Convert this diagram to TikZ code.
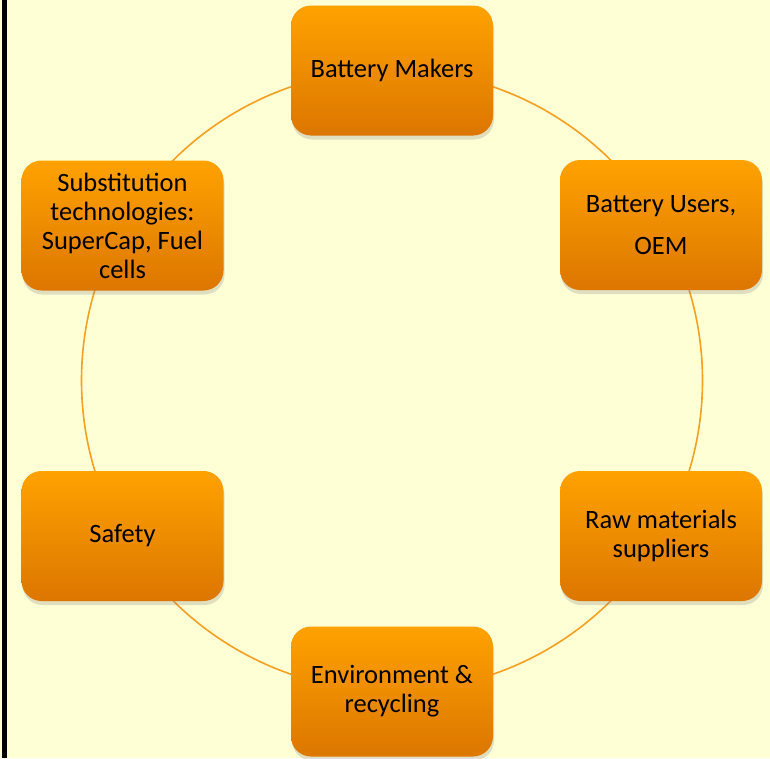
\documentclass[tikz,border=0pt]{standalone}
\usepackage{fontspec}
\setmainfont{Carlito}
\usetikzlibrary{shadows}
\definecolor{paper}{HTML}{FFFFD6}
\definecolor{ring}{HTML}{F5A01E}
\definecolor{boxtop}{HTML}{FFA200}
\definecolor{boxbot}{HTML}{DC7600}
\tikzset{
  player/.style={rounded corners=20pt, minimum width=202pt, minimum height=130pt,
    top color=boxtop, bottom color=boxbot, draw=none, align=center,
    font=\fontsize{26.5}{29}\selectfont,
    drop shadow={shadow xshift=1pt, shadow yshift=-4pt, opacity=0.25}},
}
\begin{document}
\begin{tikzpicture}[x=1pt,y=-1pt]
        \useasboundingbox (0,0) rectangle (770,758);
        \fill[paper] (0,0) rectangle (770,758);
        \fill[black] (2,0) rectangle (7,758);
        \coordinate (hub) at (392,380.5);
        \draw[ring, line width=1.6pt] (hub) circle[radius=310.5];
        \node[player] at (392,70.5) (makers) {Battery Makers};
        \node[player] at (661,225) (users) {Battery Users,\\[13pt]OEM};
        \node[player] at (661,536) (raw) {Raw materials\\suppliers};
        \node[player] at (392,691.5) (env) {Environment \&\\recycling};
        \node[player] at (122.5,536) (safety) {Safety};
        \node[player] at (122.5,225.5) (subst) {Substitution\\technologies:\\SuperCap, Fuel\\cells};
      \end{tikzpicture}
\end{document}
